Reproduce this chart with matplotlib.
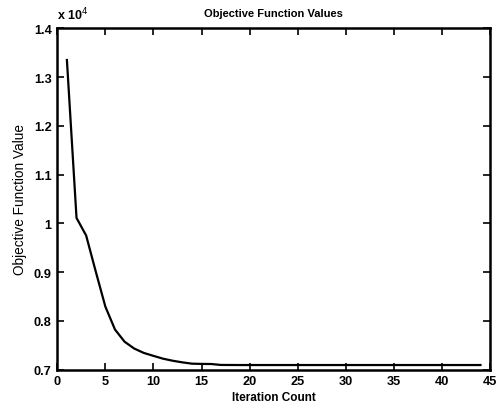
import matplotlib
matplotlib.use('Agg')
import matplotlib.pyplot as plt
from matplotlib.ticker import FuncFormatter

# === DATA ===
iterations = list(range(1, 45))
objective = [
    13350, 10110, 9750, 9010, 8290, 7820, 7570, 7430, 7340, 7280,
    7222, 7180, 7147, 7120, 7115, 7113, 7094, 7093, 7092, 7092,
    7092, 7092, 7092, 7092, 7092, 7092, 7092, 7092, 7092, 7092,
    7092, 7092, 7092, 7092, 7092, 7092, 7092, 7092, 7092, 7092,
    7092, 7092, 7092, 7092,
]
x_ticks = [0, 5, 10, 15, 20, 25, 30, 35, 40, 45]
y_ticks = [7000, 8000, 9000, 10000, 11000, 12000, 13000, 14000]

plt.rcParams['font.family'] = ['Liberation Sans', 'DejaVu Sans']

fig = plt.figure(figsize=(4.99, 4.10), dpi=100)
fig.patch.set_facecolor('white')
ax = fig.add_axes([0.1148, 0.0963, 0.8673, 0.8322])

ax.plot(iterations, objective, color='black', linewidth=1.6)

ax.set_xlim(0, 45)
ax.set_ylim(7000, 14000)
ax.set_xticks(x_ticks)
ax.set_yticks(y_ticks)
ax.yaxis.set_major_formatter(FuncFormatter(lambda v, p: f'{v / 1e4:g}'))

ax.tick_params(direction='in', top=True, right=True, length=5, width=1.2,
               labelsize=9.2, pad=4)
for lab in ax.get_xticklabels() + ax.get_yticklabels():
    lab.set_fontweight('bold')
for s in ax.spines.values():
    s.set_linewidth(1.8)

ax.set_title('Objective Function Values', fontsize=8, fontweight='bold', pad=9)
ax.set_xlabel('Iteration Count', fontsize=8.5, fontweight='bold', labelpad=3)
ax.set_ylabel('Objective Function Value', fontsize=9.8, labelpad=5)
ax.text(0.0, 1.018, r'x 10$^{4}$', transform=ax.transAxes, fontsize=9,
        fontweight='bold', ha='left', va='bottom')

fig.savefig('out.png', dpi=100, facecolor='white')
